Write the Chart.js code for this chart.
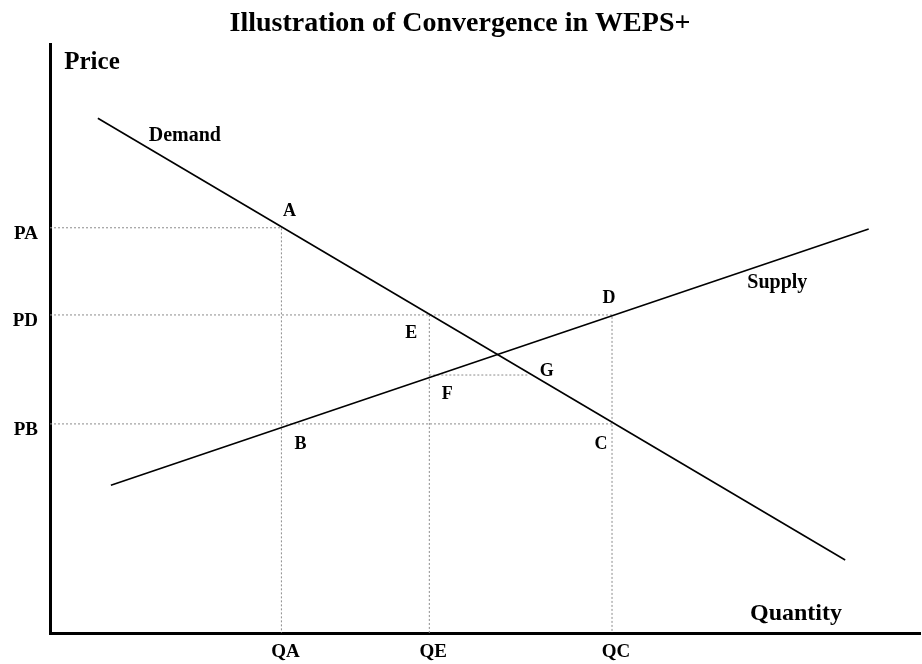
<!DOCTYPE html>
<html>
<head>
<meta charset="utf-8">
<script src="https://cdn.jsdelivr.net/npm/chart.js@4"></script>
<style>
  html, body { margin: 0; padding: 0; background: #fff; }
  #wrap { width: 922px; height: 664px; }
</style>
</head>
<body>
<div id="wrap"><canvas id="convChart" width="922" height="664"></canvas></div>
<script>
// axis ticks (quantity / price levels)
const quantityTicks = [26.6, 43.6, 64.6];
const quantityLabels = ['QA', 'QE', 'QC'];
const priceTicks = [35.5, 54.0, 68.8];
const priceLabels = ['PB', 'PD', 'PA'];

// demand and supply curves
const demandQ = [5.5, 91.4];
const demandP = [87.4, 12.4];
const supplyQ = [7.0, 94.1];
const supplyP = [25.1, 68.6];

// named points of the iteration
const pointNames = ['A', 'B', 'C', 'D', 'E', 'F', 'G'];
const pointQ = [26.6, 26.6, 64.6, 64.6, 43.6, 43.6, 54.9];
const pointP = [68.8, 35.5, 35.5, 54.0, 54.0, 43.8, 43.8];

document.addEventListener('DOMContentLoaded', () => {
    const serif = '"Liberation Serif", "Times New Roman", serif';

    // where the letters sit around each point (pixels)
    const pointLabelOffset = {
        A: [8, -12], B: [19, 25], C: [-11, 25], D: [-3, -12],
        E: [-18, 23], F: [18, 24], G: [19, 1]
    };

    const pt = name => {
        const i = pointNames.indexOf(name);
        return { x: pointQ[i], y: pointP[i] };
    };

    // dotted guides from the points back to the axes
    const guides = [
        [{ x: 0, y: pt('A').y }, pt('A'), { x: pt('A').x, y: 0 }],
        [{ x: 0, y: pt('D').y }, pt('D'), { x: pt('D').x, y: 0 }],
        [{ x: 0, y: pt('C').y }, pt('C')],
        [pt('E'), { x: pt('E').x, y: 0 }],
        [pt('F'), pt('G')]
    ];

    const guideSets = guides.map(g => ({
        data: g,
        showLine: true,
        borderColor: '#8c8c8c',
        borderWidth: 1,
        borderDash: [2, 2],
        pointRadius: 0,
        fill: false
    }));

    const curve = (qs, ps) => ({
        data: qs.map((q, i) => ({ x: q, y: ps[i] })),
        showLine: true,
        borderColor: '#000',
        borderWidth: 1.6,
        pointRadius: 0,
        fill: false
    });

    const textPlugin = {
        id: 'diagramText',
        afterDatasetsDraw(chart) {
            const ctx = chart.ctx;
            const xs = chart.scales.x, ys = chart.scales.y;
            const area = chart.chartArea;
            ctx.save();
            ctx.fillStyle = '#000';
            ctx.textAlign = 'center';
            ctx.textBaseline = 'alphabetic';

            ctx.font = 'bold 18px ' + serif;
            pointNames.forEach((n, i) => {
                const off = pointLabelOffset[n];
                ctx.fillText(n, xs.getPixelForValue(pointQ[i]) + off[0], ys.getPixelForValue(pointP[i]) + off[1]);
            });

            ctx.font = 'bold 20px ' + serif;
            ctx.fillText('Demand', xs.getPixelForValue(15.5), ys.getPixelForValue(83.5));
            ctx.fillText('Supply', xs.getPixelForValue(83.6), ys.getPixelForValue(58.6));

            ctx.font = 'bold 25px ' + serif;
            ctx.fillText('Price', area.left + 42, area.top + 25);
            ctx.font = 'bold 24px ' + serif;
            ctx.fillText('Quantity', area.right - 124, area.bottom - 13);
            ctx.restore();
        }
    };

    const ctx = document.getElementById('convChart').getContext('2d');
    new Chart(ctx, {
        type: 'scatter',
        data: {
            datasets: [curve(demandQ, demandP), curve(supplyQ, supplyP), ...guideSets]
        },
        options: {
            responsive: false,
            animation: false,
            devicePixelRatio: 1,
            layout: { padding: { left: 0, right: 2, top: 0, bottom: 0 } },
            plugins: {
                legend: { display: false },
                tooltip: { enabled: false },
                title: {
                    display: true,
                    text: 'Illustration of Convergence in WEPS+',
                    color: '#000',
                    font: { family: serif, size: 28, weight: 'bold', lineHeight: 1.2 },
                    padding: { top: 7, bottom: 3.4 }
                }
            },
            scales: {
                x: {
                    type: 'linear',
                    min: 0,
                    max: 100,
                    afterFit: s => { s.height = 31; },
                    afterBuildTicks: s => { s.ticks = quantityTicks.map(v => ({ value: v })); },
                    grid: { display: false, drawTicks: false },
                    border: { display: true, color: '#000', width: 3 },
                    ticks: {
                        autoSkip: false,
                        maxRotation: 0,
                        padding: 8,
                        labelOffset: 4,
                        color: '#000',
                        font: { family: serif, size: 19, weight: 'bold' },
                        callback: (v, i) => quantityLabels[i]
                    }
                },
                y: {
                    type: 'linear',
                    min: 0,
                    max: 100,
                    afterFit: s => { s.width = 50; },
                    afterBuildTicks: s => { s.ticks = priceTicks.map(v => ({ value: v })); },
                    grid: { display: false, drawTicks: false },
                    border: { display: true, color: '#000', width: 3 },
                    ticks: {
                        autoSkip: false,
                        padding: 12,
                        labelOffset: 6,
                        color: '#000',
                        font: { family: serif, size: 19, weight: 'bold' },
                        callback: (v, i) => priceLabels[i]
                    }
                }
            }
        },
        plugins: [textPlugin]
    });
});
</script>
</body>
</html>
